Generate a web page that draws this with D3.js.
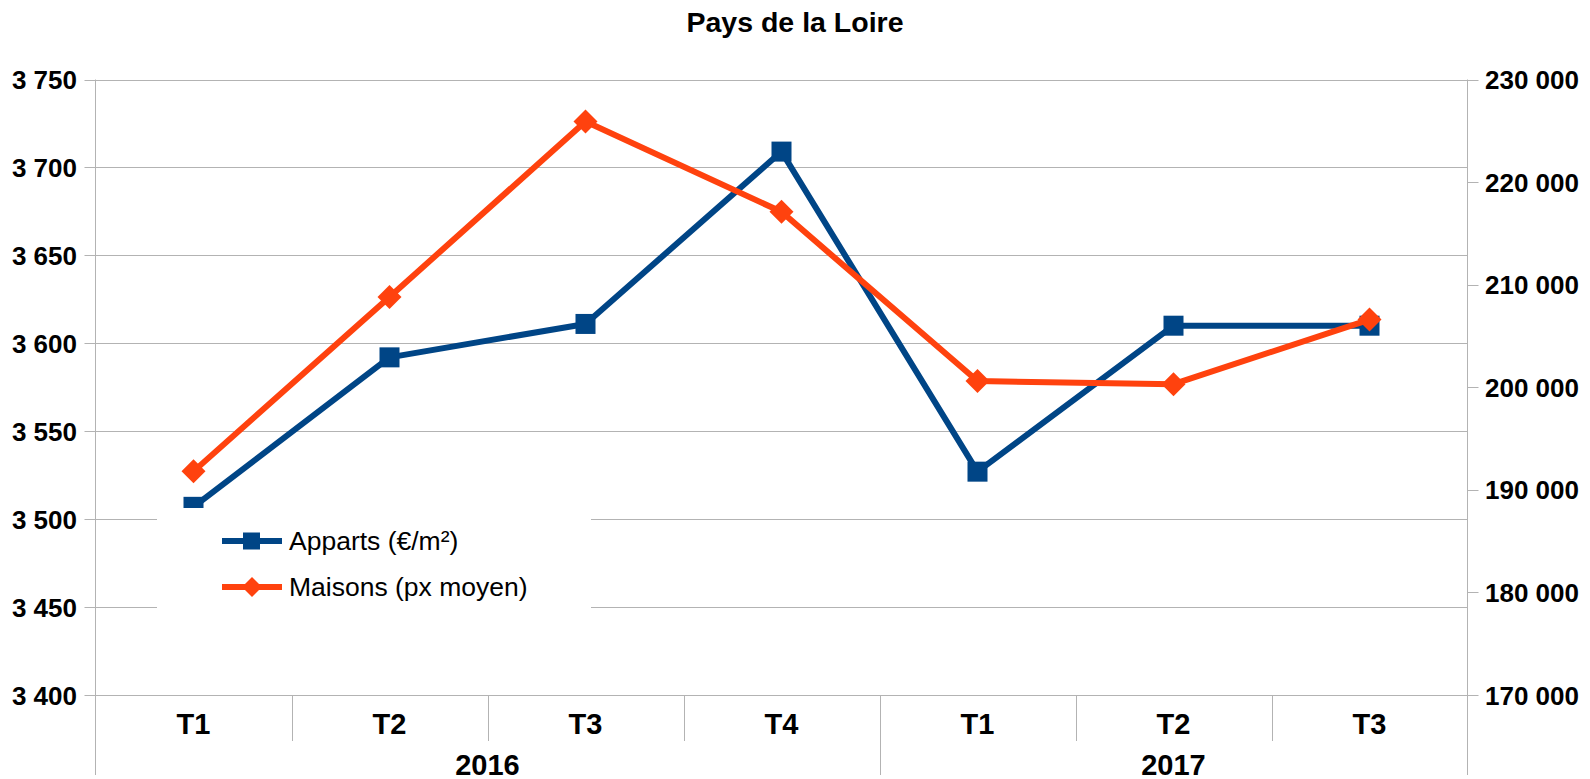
<!DOCTYPE html>
<html lang="fr">
<head>
<meta charset="utf-8">
<title>Pays de la Loire</title>
<script src="https://d3js.org/d3.v7.min.js"></script>
<style>
  body { margin: 0; background: #fff; }
  text { font-family: "Liberation Sans", Arial, sans-serif; fill: #000; }
</style>
</head>
<body>
<script>
// data
const quarters = ["T1", "T2", "T3", "T4", "T1", "T2", "T3"];
const years = [{ label: "2016", from: 0, to: 4 }, { label: "2017", from: 4, to: 7 }];
const apparts = [3507, 3592, 3611, 3709, 3527, 3610, 3610];
const maisons = [191800, 208800, 225900, 217100, 200600, 200300, 206600];
const leftTicks = [3400, 3450, 3500, 3550, 3600, 3650, 3700, 3750];
const rightTicks = [170000, 180000, 190000, 200000, 210000, 220000, 230000];

const W = 1590, H = 779;
const plotL = 95.5, plotR = 1467.5, plotT = 79.5, plotB = 695;
const blue = "#004586", orange = "#ff420e", grid = "#b3b3b3";

const svg = d3.select("body").append("svg")
  .attr("width", W).attr("height", H);

const x = d3.scaleBand().domain(d3.range(quarters.length)).range([plotL, plotR]);
const yL = d3.scaleLinear().domain([3400, 3750]).range([plotB, plotT]);
const yR = d3.scaleLinear().domain([170000, 230000]).range([plotB, plotT]);
const fmt = v => d3.format(",")(v).replace(/,/g, " ");

// gridlines
svg.append("g").selectAll("line").data(leftTicks).join("line")
  .attr("x1", plotL - 11).attr("x2", plotR)
  .attr("y1", d => Math.round(yL(d)) + 0.5).attr("y2", d => Math.round(yL(d)) + 0.5)
  .attr("stroke", grid).attr("stroke-width", 1);

// left axis labels
svg.append("g").selectAll("text").data(leftTicks).join("text")
  .attr("x", 77).attr("y", d => yL(d) + 9.5)
  .attr("text-anchor", "end")
  .style("font-size", "26px").style("font-weight", "bold")
  .text(fmt);

// right axis ticks + labels
svg.append("g").selectAll("line").data(rightTicks).join("line")
  .attr("x1", plotR).attr("x2", plotR + 11)
  .attr("y1", d => Math.round(yR(d)) + 0.5).attr("y2", d => Math.round(yR(d)) + 0.5)
  .attr("stroke", grid);
svg.append("g").selectAll("text").data(rightTicks).join("text")
  .attr("x", 1485).attr("y", d => yR(d) + 9.5)
  .style("font-size", "26px").style("font-weight", "bold")
  .text(fmt);

// vertical axes
[plotL, plotR].forEach(px => {
  svg.append("line").attr("x1", px).attr("x2", px).attr("y1", plotT).attr("y2", 775)
    .attr("stroke", grid);
});

// category dividers
const bounds = d3.range(1, quarters.length).map(i => x(i));
svg.append("g").selectAll("line").data(bounds).join("line")
  .attr("x1", d => Math.round(d) + 0.5).attr("x2", d => Math.round(d) + 0.5)
  .attr("y1", plotB).attr("y2", (d, i) => (i + 1) === years[1].from ? 775 : 741)
  .attr("stroke", grid);

// category labels
svg.append("g").selectAll("text").data(quarters).join("text")
  .attr("x", (d, i) => x(i) + x.bandwidth() / 2).attr("y", 734)
  .attr("text-anchor", "middle")
  .style("font-size", "29px").style("font-weight", "bold")
  .text(d => d);

svg.append("g").selectAll("text").data(years).join("text")
  .attr("x", d => (x(d.from) + (d.to < quarters.length ? x(d.to) : plotR)) / 2)
  .attr("y", 775)
  .attr("text-anchor", "middle")
  .style("font-size", "29px").style("font-weight", "bold")
  .text(d => d.label);

// series
const cx = i => x(i) + x.bandwidth() / 2;
const lineL = d3.line().x((d, i) => cx(i)).y(d => yL(d));
const lineR = d3.line().x((d, i) => cx(i)).y(d => yR(d));

svg.append("path").datum(apparts).attr("d", lineL)
  .attr("fill", "none").attr("stroke", blue).attr("stroke-width", 6)
  .attr("stroke-linejoin", "round");
svg.append("g").selectAll("rect").data(apparts).join("rect")
  .attr("x", (d, i) => cx(i) - 10).attr("y", d => yL(d) - 10)
  .attr("width", 20).attr("height", 20).attr("fill", blue);

svg.append("path").datum(maisons).attr("d", lineR)
  .attr("fill", "none").attr("stroke", orange).attr("stroke-width", 6)
  .attr("stroke-linejoin", "round");
const diamond = (px, py, r) => `M${px},${py - r}L${px + r},${py}L${px},${py + r}L${px - r},${py}Z`;
svg.append("g").selectAll("path").data(maisons).join("path")
  .attr("d", (d, i) => diamond(cx(i), yR(d), 12)).attr("fill", orange);

// legend
const lg = svg.append("g");
lg.append("rect").attr("x", 157).attr("y", 508).attr("width", 434).attr("height", 106)
  .attr("fill", "#fff");
const legendItems = [
  { name: "Apparts (€/m²)", color: blue, y: 541, shape: "square" },
  { name: "Maisons (px moyen)", color: orange, y: 587, shape: "diamond" }
];
legendItems.forEach(it => {
  lg.append("line").attr("x1", 222).attr("x2", 282).attr("y1", it.y).attr("y2", it.y)
    .attr("stroke", it.color).attr("stroke-width", 6);
  if (it.shape === "square") {
    lg.append("rect").attr("x", 243).attr("y", it.y - 8.5).attr("width", 17).attr("height", 17)
      .attr("fill", it.color);
  } else {
    lg.append("path").attr("d", diamond(252, it.y, 10)).attr("fill", it.color);
  }
  lg.append("text").attr("x", 289).attr("y", it.y + 9)
    .style("font-size", "26.5px").text(it.name);
});

// title
svg.append("text").attr("x", 795).attr("y", 32)
  .attr("text-anchor", "middle")
  .style("font-size", "28.5px").style("font-weight", "bold")
  .text("Pays de la Loire");
</script>
</body>
</html>
